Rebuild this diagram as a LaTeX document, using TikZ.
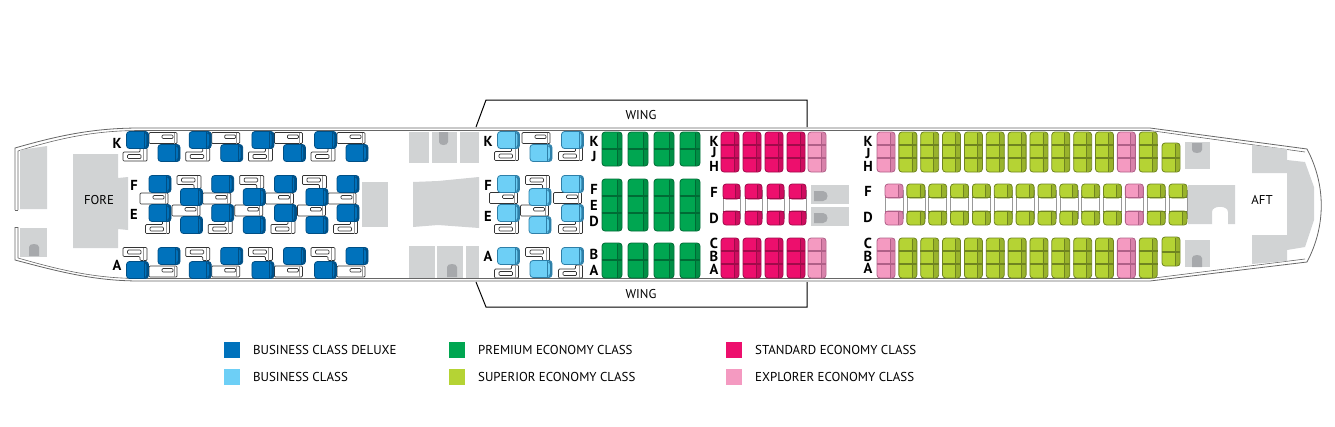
\documentclass[tikz,border=0pt]{standalone}
\usepackage{fontspec}
\setmainfont{PT Sans}
\definecolor{deluxe}{HTML}{0072BC}
\definecolor{deluxedark}{HTML}{004F85}
\definecolor{business}{HTML}{6DCFF6}
\definecolor{businessdark}{HTML}{2E7FA8}
\definecolor{premium}{HTML}{00A651}
\definecolor{premiumdark}{HTML}{006B35}
\definecolor{superior}{HTML}{B5D334}
\definecolor{superiordark}{HTML}{6F8420}
\definecolor{standard}{HTML}{ED0F6D}
\definecolor{standarddark}{HTML}{A00A4A}
\definecolor{explorer}{HTML}{F49AC1}
\definecolor{explorerdark}{HTML}{B06088}
\definecolor{galley}{HTML}{D1D3D4}
\definecolor{galleydark}{HTML}{A7A9AC}
\tikzset{
  lounge/.pic={
    \filldraw[draw=#1dark,fill=#1,rounded corners=3pt,line width=.8pt] (-11,-8.5) rectangle (11,8.5);
    \fill[#1dark,rounded corners=3pt] (6.5,-8.2) rectangle (10.8,8.2);
    \fill[#1,rounded corners=2pt] (6.5,-6.5) rectangle (8.8,6.5);
    \draw[#1dark,line width=.6pt] (6.5,-8.2) -- (6.5,8.2);
  },
  footshort/.pic={
    \filldraw[footdecorate] (-12,-2.5)--(5,-2.5)--(5,-6.5)--(12,-6.5)--(12,6.5)--(-12,6.5)--cycle;
    \draw[footdecorate] (-7.5,0)--(6,0)--(6,4)--(-7.5,4)--cycle;
    \draw[black!40,line width=.9pt] (8.5,-6.5)--(8.5,6.5);
  },
  footlong/.pic={
    \filldraw[footdecorate] (-14,-5.5)--(14,-5.5)--(14,5.5)--(-14,5.5)--cycle;
    \draw[footdecorate] (-1,-3)--(10,-3)--(10,0.5)--(-1,0.5)--cycle;
    \draw[black!40,line width=.9pt] (11,-5.5)--(11,5.5);
  },
  footdecorate/.style={draw=black!80,fill=white,line width=.7pt,rounded corners=1pt},
  shelldecorate/.style={draw=black!60,line width=.8pt},
  galleydecorate/.style={fill=galley},
  lavdecorate/.style={fill=galleydark,rounded corners=2.5pt},
  swatchdecorate/.style={minimum width=16pt,minimum height=16pt,inner sep=0pt},
  legenddecorate/.style={anchor=west,inner sep=0pt,font=\fontsize{12.9}{12.9}\selectfont},
  letterdecorate/.style={inner sep=0pt,font=\fontsize{14.5}{14.5}\selectfont\bfseries},
  placedecorate/.style={inner sep=0pt,font=\fontsize{12.8}{12.8}\selectfont}
}
%% one block of economy seats: colour, left, width, top, bottom, dividers
\newcommand{\seatbench}[6]{
  \filldraw[draw=#1dark,fill=#1,rounded corners=3pt,line width=.8pt] (#2,#4) rectangle (#2+#3,#5);
  \fill[#1dark,opacity=.4,rounded corners=2pt] (#2+#3-5,#4+.3) rectangle (#2+#3-.3,#5-.3);
  \draw[#1dark,line width=.7pt] (#2+#3-5,#4+.5) -- (#2+#3-5,#5-.5);
  \edef\divlist{#6}
  \foreach \seatdiv in \divlist {
    \draw[#1dark,line width=1.1pt] (#2-.3,\seatdiv) -- (#2+#3+.3,\seatdiv);
  }
}
\begin{document}
\begin{tikzpicture}[x=1pt,y=-1pt]
\useasboundingbox (0,0) rectangle (1335,426);
%% fuselage
\draw[shelldecorate] (15,210)--(15,148) .. controls (60,135) and (95,128) .. (140,128)
  -- (1150,128) -- (1307,149) .. controls (1326,185) and (1326,226) .. (1307,262)
  -- (1150,281) -- (140,281) .. controls (95,281) and (60,272) .. (15,260) -- (15,227);
\draw[shelldecorate,line width=.6pt] (18,210)--(18,151) .. controls (60,138) and (95,130.5) .. (140,130.5)
  -- (1150,130.5) -- (1305,152);
\draw[shelldecorate,line width=.6pt] (18,227)--(18,258) .. controls (60,270) and (95,278.5) .. (140,278.5)
  -- (1150,278.5) -- (1305,259);
\draw[shelldecorate,line width=.6pt] (15,210)--(18,210) (15,227)--(18,227);
%% wings
\draw[line width=1pt] (476,127)--(486,100)--(807,100)--(807,127);
\draw[line width=1pt] (476,282)--(486,307)--(807,307)--(807,282);
%% galleys and lavatories
\path[galleydecorate] (20,150)--(47,146)--(47,209)--(20,209)--cycle;
\path[galleydecorate] (20,228) rectangle (47,257);
\path[galleydecorate] (73,154)--(118,154)--(118,178)--(128,177)--(128,230)--(118,229)--(118,248)--(73,248)--cycle;
\path[galleydecorate] (362,182) rectangle (388,227);
\path[galleydecorate] (413,182)--(438,181)--(479,177)--(479,228)--(438,225)--(413,227)--cycle;
\foreach \xa/\ya/\xb/\yb in {409/132/429/163, 432/132/457/163, 460/132/479/163,
  409/246/435/278, 437/246/463/278, 466/246/479/278, 811/185/849/204, 811/207/849/226,
  1185/142/1210/169, 1185/240/1210/267} {
  \path[galleydecorate] (\xa,\ya) rectangle (\xb,\yb);
}
\path[galleydecorate] (1188,185)--(1235,185)--(1235,224)--(1228,224)--(1228,212)
  .. controls (1228,205) and (1212,205) .. (1212,212)--(1212,224)--(1188,224)--cycle;
\path[galleydecorate] (1252,145)--(1287,149)--(1287,160)--(1305,162)--(1314,187)--(1314,220)
  --(1305,247)--(1287,250)--(1287,261)--(1252,264)--(1252,235)--(1287,235)--(1287,173)--(1252,173)--cycle;
\foreach \xa/\ya/\xb/\yb in {29/243/39/256, 447/263/457/277, 1192/254/1202/267} {
  \path[lavdecorate,sharp corners] (\xa,\yb)--(\xa,\ya+4) .. controls (\xa,\ya) and (\xb,\ya) .. (\xb,\ya+4)--(\xb,\yb)--cycle;
}
\foreach \xa/\ya/\xb/\yb in {439/132/448/146, 1192/143/1202/154} {
  \path[lavdecorate,sharp corners] (\xa,\ya)--(\xa,\yb-4) .. controls (\xa,\yb) and (\xb,\yb) .. (\xb,\yb-4)--(\xb,\ya)--cycle;
}
\foreach \ya/\yb in {191/201, 213/223} {
  \path[lavdecorate,sharp corners] (814,\ya)--(823,\ya) .. controls (829,\ya) and (829,\yb) .. (823,\yb)--(814,\yb)--cycle;
}
%% business class deluxe
\foreach \offset in {0,62.7,125.4,188} {
  \pic at (135+\offset,154.5) {footshort};
  \pic at (163+\offset,138) {footlong};
  \pic at (137.5+\offset,140) {lounge=deluxe};
  \pic at (169+\offset,153) {lounge=deluxe};
  \pic[yscale=-1] at (135+\offset,254) {footshort};
  \pic at (163+\offset,271.5) {footlong};
  \pic at (137.5+\offset,270) {lounge=deluxe};
  \pic at (169+\offset,256) {lounge=deluxe};
  \pic at (154+\offset,198.5) {footlong};
  \pic at (157.5+\offset,227) {footshort};
  \pic at (160+\offset,184) {lounge=deluxe};
  \pic at (160+\offset,213) {lounge=deluxe};
}
\foreach \offset in {0,62.7,125.4} {
  \pic[yscale=-1] at (189+\offset,182) {footshort};
  \pic at (186+\offset,210.5) {footlong};
  \pic at (191.5+\offset,197) {lounge=deluxe};
  \pic at (191.5+\offset,225) {lounge=deluxe};
}
%% business class
\foreach \offset in {0,64} {
  \pic at (506.5+\offset,154) {footshort};
  \pic at (508.5+\offset,140) {lounge=business};
  \pic at (506.5+\offset,271.5) {footshort};
  \pic at (508.5+\offset,256) {lounge=business};
  \pic at (503.5+\offset,198) {footlong};
  \pic at (506.5+\offset,227) {footshort};
  \pic at (508.5+\offset,184) {lounge=business};
  \pic at (508.5+\offset,213) {lounge=business};
}
\pic at (536,138) {footlong};
\pic at (541,153) {lounge=business};
\pic[yscale=-1] at (537.5,182) {footshort};
\pic at (534.5,210.5) {footlong};
\pic at (540,197) {lounge=business};
\pic at (540,225) {lounge=business};
\pic[yscale=-1] at (537.5,254) {footshort};
\pic at (541,269) {lounge=business};
%% premium economy
\foreach \x in {602,628,654,680} {
  \foreach \ya/\yb/\divs in {132/166/149, 179/231/{196,213}, 243/278/260} {
    \seatbench{premium}{\x}{20}{\ya}{\yb}{\divs}
  }
}
%% standard and explorer economy
\foreach \seatcolor/\x in {standard/721, standard/743, standard/765, standard/787, explorer/808} {
  \seatbench{\seatcolor}{\x}{18}{132}{172}{145,158}
  \seatbench{\seatcolor}{\x}{18}{238}{278}{251,264}
}
\foreach \x in {723,745,767,789} {
  \filldraw[fill=white,draw=black!40,line width=.6pt] (\x,190) rectangle (\x+17,218);
  \seatbench{standard}{\x}{17}{184}{199}{198.5}
  \seatbench{standard}{\x}{17}{211}{225}{211.5}
}
%% superior economy, window blocks
\foreach \seatcolor/\x in {explorer/877, superior/898.85, superior/920.7, superior/942.55, superior/964.4,
  superior/986.25, superior/1008.1, superior/1029.95, superior/1051.8, superior/1073.65, superior/1095.5,
  explorer/1117.35, superior/1139.2} {
  \seatbench{\seatcolor}{\x}{18}{132}{172}{145,158}
  \seatbench{\seatcolor}{\x}{18}{238}{278}{251,264}
}
\seatbench{superior}{1162}{18}{143}{172}{158}
\seatbench{superior}{1162}{18}{237}{266}{252}
%% superior economy, centre blocks
\foreach \seatcolor/\x in {explorer/885, superior/906.85, superior/928.7, superior/950.55, superior/972.4,
  superior/994.25, superior/1016.1, superior/1037.95, superior/1059.8, superior/1081.65, superior/1103.5,
  explorer/1125.35, superior/1147.2, superior/1169} {
  \filldraw[fill=white,draw=black!40,line width=.6pt] (\x,190) rectangle (\x+18,218);
  \seatbench{\seatcolor}{\x}{18}{184}{198}{197.5}
  \seatbench{\seatcolor}{\x}{18}{211}{225}{211.5}
}
%% seat letters
\foreach \nodename/\letter/\x/\y in {dk/K/117/143, df/F/134/185, de/E/134/214, da/A/117/265,
  bk/K/488/141, bf/F/488/185, be/E/488/216, ba/A/488/256,
  pk/K/594/141, pj/J/594/157, pf/F/594/189, pe/E/594/205, pd/D/594/221, pb/B/594/254, pa/A/594/270,
  sk/K/714/141, sj/J/714/153, sh/H/714/166, sf/F/714/192, sd/D/714/218, sc/C/714/243, sb/B/714/256, sa/A/714/269,
  uk/K/868/141, uj/J/868/154, uh/H/868/166, uf/F/868/191, ud/D/868/217, uc/C/868/243, ub/B/868/256, ua/A/868/268} {
  \node (\nodename) at (\x,\y) [letterdecorate] {\letter};
}
%% places
\foreach \nodename/\place/\x/\y in {fore/FORE/99/200, aft/AFT/1262/200, wingup/WING/641/115, wingdown/WING/641/294} {
  \node (\nodename) at (\x,\y) [placedecorate] {\place};
}
%% legend
\foreach \nodename/\classcolor/\classname/\x/\y in {
  deluxekey/deluxe/BUSINESS CLASS DELUXE/224/350,
  businesskey/business/BUSINESS CLASS/224/377,
  premiumkey/premium/PREMIUM ECONOMY CLASS/449/350,
  superiorkey/superior/SUPERIOR ECONOMY CLASS/449/377,
  standardkey/standard/STANDARD ECONOMY CLASS/726/350,
  explorerkey/explorer/EXPLORER ECONOMY CLASS/726/377} {
  \node (\nodename) at (\x+8,\y) [swatchdecorate,fill=\classcolor] {};
  \node (\nodename text) at (\x+29,\y) [legenddecorate] {\classname};
}
\end{tikzpicture}
\end{document}
